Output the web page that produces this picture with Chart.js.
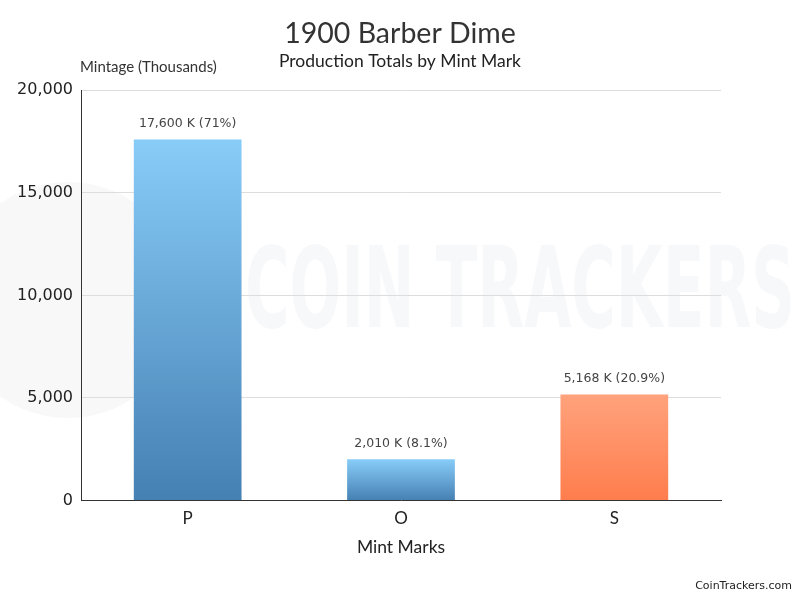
<!DOCTYPE html>
<html>
<head>
<meta charset="utf-8">
<script src="https://cdn.jsdelivr.net/npm/chart.js@4/dist/chart.umd.min.js"></script>
<style>
  html, body { margin: 0; padding: 0; background: #fff; }
  #wrap { width: 800px; height: 600px; }
</style>
</head>
<body>
<div id="wrap"><canvas id="chart" width="800" height="600"></canvas></div>
<script>
// 1900 Barber Dime - mintage by mint mark
const mintMarks = ['P', 'O', 'S'];
const mintage = [17600, 2010, 5168];          // thousands
const shareLabels = ['71%', '8.1%', '20.9%'];
const yTicks = [0, 5000, 10000, 15000, 20000];

const gradTop = ['#88ccf8', '#88ccf8', '#ffa27c'];
const gradBottom = ['#4580b3', '#4580b3', '#ff7d4d'];

function barFill(ctx) {
  const chart = ctx.chart;
  const area = chart.chartArea;
  const i = ctx.dataIndex;
  if (!area || !chart.scales.y) return gradBottom[i];
  const top = chart.scales.y.getPixelForValue(mintage[i]);
  const g = chart.ctx.createLinearGradient(0, top, 0, area.bottom);
  g.addColorStop(0, gradTop[i]);
  g.addColorStop(1, gradBottom[i]);
  return g;
}

// faint watermark behind everything
const watermark = {
  id: 'watermark',
  beforeDraw(chart) {
    const c = chart.ctx;
    c.save();
    c.fillStyle = 'rgba(150,160,175,0.07)';
    c.beginPath();
    c.arc(68, 300, 118, 0, Math.PI * 2);
    c.fill();
    c.font = 'bold 112px "Liberation Sans Narrow", "DejaVu Sans Condensed", sans-serif';
    c.textBaseline = 'middle';
    const w = c.measureText('COIN TRACKERS').width;
    c.translate(245, 298);
    c.scale(550 / w, 1);
    c.fillStyle = 'rgba(150,165,185,0.08)';
    c.fillText('COIN TRACKERS', 0, 0);
    c.restore();
  }
};

// value labels, y axis caption, site credit
const extras = {
  id: 'extras',
  afterDatasetsDraw(chart) {
    const c = chart.ctx;
    const meta = chart.getDatasetMeta(0);
    c.save();
    c.font = '12.5px "DejaVu Sans", Verdana, sans-serif';
    c.fillStyle = '#444';
    c.textAlign = 'center';
    c.textBaseline = 'middle';
    meta.data.forEach((bar, i) => {
      const txt = mintage[i].toLocaleString('en-US') + ' K (' + shareLabels[i] + ')';
      c.fillText(txt, bar.x, bar.y - 16);
    });

    c.font = '15px Lato, "Open Sans", sans-serif';
    c.fillStyle = '#333';
    c.textAlign = 'left';
    c.fillText('Mintage (Thousands)', 80, 67);

    c.font = '11px "DejaVu Sans", Verdana, sans-serif';
    c.fillStyle = '#222';
    c.textAlign = 'right';
    c.fillText('CoinTrackers.com', 792, 586);
    c.restore();
  }
};

new Chart(document.getElementById('chart'), {
  type: 'bar',
  data: {
    labels: mintMarks,
    datasets: [{
      data: mintage,
      backgroundColor: barFill,
      borderWidth: 0,
      categoryPercentage: 0.505,
      barPercentage: 1
    }]
  },
  options: {
    responsive: false,
    animation: false,
    layout: { padding: { left: 0, right: 0, top: 0, bottom: 38 } },
    plugins: {
      legend: { display: false },
      tooltip: { enabled: false },
      title: {
        display: true,
        text: '1900 Barber Dime',
        color: '#333',
        font: { family: 'Lato, "Open Sans", sans-serif', size: 28.5, weight: 'normal' },
        padding: { top: 17, bottom: 0 }
      },
      subtitle: {
        display: true,
        text: 'Production Totals by Mint Mark',
        color: '#222',
        font: { family: 'Lato, "Open Sans", sans-serif', size: 17.5 },
        padding: { top: 0, bottom: 18 }
      }
    },
    scales: {
      x: {
        grid: { display: false, drawTicks: false },
        border: { color: '#333', width: 1 },
        ticks: {
          color: '#222',
          padding: 8,
          font: { family: 'Lato, "Open Sans", sans-serif', size: 17 }
        },
        title: {
          display: true,
          text: 'Mint Marks',
          color: '#222',
          font: { family: 'Lato, "Open Sans", sans-serif', size: 17.5 },
          padding: { top: 0, bottom: 4 }
        }
      },
      y: {
        min: 0,
        max: 20000,
        afterFit(scale) { scale.width = 81; },
        afterBuildTicks(scale) { scale.ticks = yTicks.map(v => ({ value: v })); },
        grid: { color: '#dddddd', drawTicks: false },
        border: { color: '#333', width: 1 },
        ticks: {
          color: '#222',
          padding: 8,
          font: { family: '"DejaVu Sans", Verdana, sans-serif', size: 16 },
          callback: v => v.toLocaleString('en-US')
        }
      },
      // empty right-hand axis only reserves the right margin
      yRight: {
        position: 'right',
        afterFit(scale) { scale.width = 79; },
        grid: { display: false, drawTicks: false },
        border: { display: false },
        ticks: { display: false }
      }
    }
  },
  plugins: [watermark, extras]
});
</script>
</body>
</html>
